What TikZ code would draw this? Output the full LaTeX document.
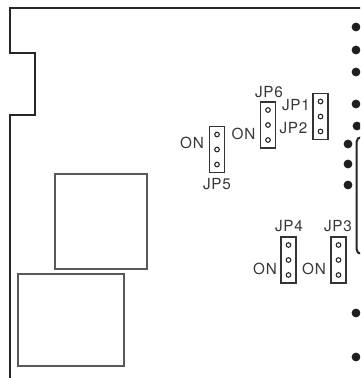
\documentclass[tikz,border=0pt]{standalone}
\usepackage{fontspec}
\setmainfont{TeX Gyre Heros}[LetterSpace=5]
\begin{document}
\begin{tikzpicture}[x=1pt,y=-1pt,
  outline/.style={draw=black!85, line width=2pt, line join=miter},
  chip/.style={draw=black!65, line width=1.1pt, fill=none},
  jbox/.style={draw=black!80, line width=1.1pt, minimum width=15pt, minimum height=46pt, inner sep=0pt},
  pin/.style={circle, draw=black!85, line width=1.1pt, minimum size=4.6pt, inner sep=0pt},
  dot/.style={circle, fill=black!88, minimum size=8.8pt, inner sep=0pt},
  lbl/.style={inner sep=0pt, anchor=base, text=black!78, font=\fontsize{15.3}{15.3}\selectfont}]
\useasboundingbox (0,0) rectangle (360,378);
\clip (0,0) rectangle (360,378);
% board outline
\draw[outline] (370,8) -- (10,8) -- (10,53) -- (35,53) -- (35,115) -- (9.5,115) -- (9.5,390);
% chips
\draw[chip] (55,174) rectangle (147,269);
\draw[chip] (18,274) rectangle (124,366);
% connector on right
\draw[outline, rounded corners=5pt] (375,137) -- (356.5,137) -- (356.5,254) -- (375,254);
% dots
\foreach \n/\x/\y in {d1/356/27, d2/356/50, d3/356/72, d4/356/104, d5/357/126, d6/348/144, d7/348/164, d8/348/185, d9/356/313, d10/356/357}
  \node[dot] (\n) at (\x,\y) {};
% jumpers
\node[jbox] (jp5) at (217,149.5) {};
\node[jbox] (jp6) at (268,125) {};
\node[jbox] (jp12) at (320.5,116.5) {};
\node[jbox] (jp4) at (288.5,260) {};
\node[jbox] (jp3) at (338.5,260) {};
\foreach \b in {jp5,jp6,jp12,jp4,jp3} {
  \node[pin] (\b-a) at ([yshift=-15pt]\b.center) {};
  \node[pin] (\b-b) at (\b.center) {};
  \node[pin] (\b-c) at ([yshift=15pt]\b.center) {};
}
% labels
\node[lbl] (l6) at (269,97.5) {JP6};
\node[lbl] (l1) at (296,110.5) {JP1};
\node[lbl] (l2) at (293.5,133.5) {JP2};
\node[lbl] (on5) at (192,148.5) {ON};
\node[lbl] (on6) at (243.5,139.5) {ON};
\node[lbl] (l5) at (217,189.5) {JP5};
\node[lbl] (l4) at (289,231.5) {JP4};
\node[lbl] (l3) at (338,231.5) {JP3};
\node[lbl] (on4) at (265,274.5) {ON};
\node[lbl] (on3) at (314,274.5) {ON};
\end{tikzpicture}
\end{document}
